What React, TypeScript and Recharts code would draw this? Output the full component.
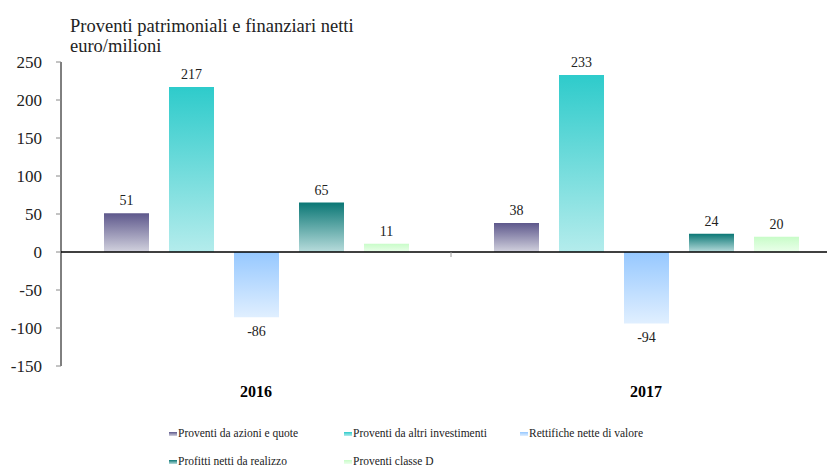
import React from "react";
import {
  BarChart,
  Bar,
  XAxis,
  YAxis,
  ReferenceLine,
} from "recharts";

// anni / categorie
const categories = ["2016", "2017"];

// serie (euro/milioni)
const seriesNames = [
  "Proventi da azioni e quote",
  "Proventi da altri investimenti",
  "Rettifiche nette di valore",
  "Profitti netti da realizzo",
  "Proventi classe D",
];
const azioniQuote = [51, 38];
const altriInvestimenti = [217, 233];
const rettifiche = [-86, -94];
const profittiRealizzo = [65, 24];
const classeD = [11, 20];

const yTicks = [-150, -100, -50, 0, 50, 100, 150, 200, 250];

const seriesKeys = ["azioni", "altri", "rettifiche", "profitti", "classeD"];
const seriesValues = [azioniQuote, altriInvestimenti, rettifiche, profittiRealizzo, classeD];

// colori dei gradienti: [alto, basso]
const gradients: [string, string][] = [
  ["#5e588c", "#d2d2de"],
  ["#2ecbcb", "#b4ecec"],
  ["#96c8ff", "#e0efff"],
  ["#0b7775", "#b8dcdc"],
  ["#c8fcc8", "#ebffeb"],
];

const data = categories.map((year, i) => {
  const row: Record<string, string | number> = { year };
  seriesKeys.forEach((k, s) => {
    row[k] = seriesValues[s][i];
  });
  return row;
});

const FONT = '"Liberation Serif", "Times New Roman", serif';

// etichette valori: sopra le barre positive, sotto quelle negative
function ValueLabel(props: any) {
  const { x, y, width, height, value } = props;
  const v = Number(value);
  const top = Math.min(y, y + height);
  const bottom = Math.max(y, y + height);
  const cx = x + width / 2;
  return (
    <text
      x={cx}
      y={v >= 0 ? top - 8 : bottom + 19}
      textAnchor="middle"
      fontFamily={FONT}
      fontSize={14}
      fill="#222"
    >
      {v}
    </text>
  );
}

// piccoli tick di separazione tra categorie sulla linea dello zero
function ZeroSeparators(props: any) {
  const vb = props.viewBox || {};
  const n = categories.length;
  const lines = [];
  for (let k = 1; k <= n; k++) {
    const x = vb.x + (vb.width * k) / n;
    lines.push(
      <line key={k} x1={x} x2={x} y1={vb.y} y2={vb.y + 5} stroke="#999" strokeWidth={1} />
    );
  }
  return <g>{lines}</g>;
}

const legendLeft = [169, 344, 520];

export default function App() {
  return (
    <div
      style={{
        position: "absolute",
        left: 0,
        top: 0,
        width: 827,
        height: 470,
        overflow: "hidden",
        background: "#fff",
        fontFamily: FONT,
      }}
    >
      <div
        style={{
          position: "absolute",
          left: 70,
          top: 16,
          fontSize: 18.5,
          lineHeight: "20px",
          color: "#222",
          whiteSpace: "nowrap",
        }}
      >
        Proventi patrimoniali e finanziari netti
        <br />
        euro/milioni
      </div>

      <BarChart
        width={851}
        height={470}
        data={data}
        margin={{ top: 62, right: 10, left: 0, bottom: 74 }}
        barGap={20}
        barSize={45}
      >
        <defs>
          {gradients.map(([a, b], i) => (
            <linearGradient key={i} id={`grad${i}`} x1="0" y1="0" x2="0" y2="1">
              <stop offset="0%" stopColor={a} />
              <stop offset="100%" stopColor={b} />
            </linearGradient>
          ))}
        </defs>
        <XAxis
          dataKey="year"
          axisLine={false}
          tickLine={false}
          tickMargin={14}
          height={30}
          tick={{ fontFamily: FONT, fontSize: 16, fontWeight: "bold", fill: "#000" }}
        />
        <YAxis
          domain={[-150, 250]}
          ticks={yTicks}
          width={61}
          interval={0}
          tickSize={5}
          tickMargin={14}
          axisLine={{ stroke: "#000", strokeWidth: 1 }}
          tickLine={{ stroke: "#888" }}
          tick={{ fontFamily: FONT, fontSize: 17, fill: "#222" }}
        />
        {seriesKeys.map((k, i) => (
          <Bar
            key={k}
            dataKey={k}
            name={seriesNames[i]}
            fill={`url(#grad${i})`}
            isAnimationActive={false}
            label={<ValueLabel />}
          />
        ))}
        <ReferenceLine
          y={0}
          stroke="#000"
          strokeWidth={1.5}
          label={(p: any) => <ZeroSeparators {...p} />}
        />
      </BarChart>

      {seriesNames.map((name, i) => {
        const col = i % 3;
        const row = Math.floor(i / 3);
        return (
          <div
            key={name}
            style={{
              position: "absolute",
              left: legendLeft[col],
              top: 426 + row * 28,
              fontSize: 11.5,
              lineHeight: "15px",
              color: "#222",
              whiteSpace: "nowrap",
              display: "flex",
              alignItems: "center",
            }}
          >
            <span
              style={{
                display: "inline-block",
                width: 8,
                height: 4,
                marginRight: 1,
                background: `linear-gradient(to bottom, ${gradients[i][0]}, ${gradients[i][1]})`,
              }}
            />
            {name}
          </div>
        );
      })}
    </div>
  );
}
